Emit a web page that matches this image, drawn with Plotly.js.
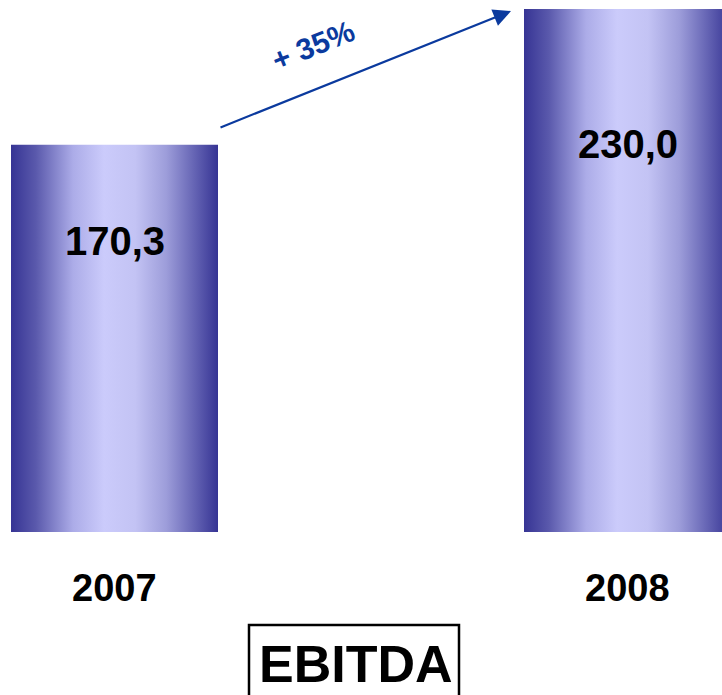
<!DOCTYPE html>
<html>
<head>
<meta charset="utf-8">
<script src="https://cdn.plot.ly/plotly-3.0.1.min.js"></script>
<style>html,body{margin:0;padding:0;background:#fff;}#chart{width:722px;height:695px;}</style>
</head>
<body>
<div id="chart"></div>
<script>
var years = ['2007', '2008'];
var ebitda = [170.3, 230.0];
var valueLabels = ['170,3', '230,0'];
var growthLabel = '+ 35%';
var chartTitle = 'EBITDA';

var pxPerUnit = 523 / 230;          // vertical scale
var yTop = 532 / pxPerUnit;
var yBot = -163 / pxPerUnit;
var x0 = -114.5 / 513;
var x1 = x0 + 722 / 513;
function yv(px) { return (532 - px) / pxPerUnit; }
function xv(px) { return x0 + px / 513; }

var trace = {
  type: 'bar',
  x: [0, 1],
  y: ebitda,
  width: 207 / 513,
  marker: { color: '#8a8ad8', line: { width: 0 } },
  hoverinfo: 'none'
};

var labelY = [yv(241), yv(144)];
var annotations = [];
years.forEach(function (yr, i) {
  annotations.push({
    x: i, y: yv(588), xref: 'x', yref: 'y', text: '<b>' + yr + '</b>', showarrow: false,
    font: { family: 'Liberation Sans, Arial, sans-serif', size: 38, color: '#000' },
    xanchor: 'center', yanchor: 'middle'
  });
  annotations.push({
    x: i, y: labelY[i], xref: 'x', yref: 'y', text: '<b>' + valueLabels[i] + '</b>', showarrow: false,
    font: { family: 'Liberation Sans, Arial, sans-serif', size: 40, color: '#000' },
    xanchor: 'center', yanchor: 'middle'
  });
});
// growth arrow
annotations.push({
  x: xv(511), y: yv(11), ax: xv(219), ay: yv(128), xref: 'x', yref: 'y', axref: 'x', ayref: 'y',
  text: '', showarrow: true, arrowhead: 2, arrowsize: 1.6, arrowwidth: 2.2, arrowcolor: '#0b3a9e', standoff: 0
});
annotations.push({
  x: xv(313), y: yv(45), xref: 'x', yref: 'y', text: '<b>' + growthLabel + '</b>', showarrow: false,
  textangle: -22, font: { family: 'Liberation Sans, Arial, sans-serif', size: 30, color: '#0b3a9e' },
  xanchor: 'center', yanchor: 'middle'
});
annotations.push({
  x: 356 / 722, y: 1 - 664 / 695, xref: 'paper', yref: 'paper', text: '<b>' + chartTitle + '</b>', showarrow: false,
  font: { family: 'Liberation Sans, Arial, sans-serif', size: 52, color: '#000' },
  xanchor: 'center', yanchor: 'middle'
});

var layout = {
  width: 722, height: 695,
  margin: { l: 0, r: 0, t: 0, b: 0 },
  paper_bgcolor: '#fff', plot_bgcolor: '#fff',
  showlegend: false,
  xaxis: { range: [x0, x1], visible: false, fixedrange: true },
  yaxis: { range: [yBot, yTop], visible: false, fixedrange: true },
  annotations: annotations,
  shapes: [{
    type: 'rect', xref: 'paper', yref: 'paper',
    x0: 249 / 722, x1: 459 / 722, y0: -0.05, y1: 1 - 625 / 695,
    line: { color: '#000', width: 2.5 }, fillcolor: 'rgba(0,0,0,0)'
  }]
};

Plotly.newPlot('chart', [trace], layout, { staticPlot: true, displayModeBar: false }).then(function (gd) {
  var svg = gd.querySelector('.main-svg');
  var defs = svg.querySelector('defs');
  var ns = 'http://www.w3.org/2000/svg';
  var grad = document.createElementNS(ns, 'linearGradient');
  grad.setAttribute('id', 'barGrad');
  grad.setAttribute('x1', '0'); grad.setAttribute('y1', '0');
  grad.setAttribute('x2', '1'); grad.setAttribute('y2', '0');
  var stops = [[0, '#363494'], [0.12, '#5a59ac'], [0.3, '#acace8'], [0.45, '#cbcbfb'], [0.6, '#c3c3f4'], [0.75, '#9d9dda'], [0.9, '#5f5eb0'], [1, '#363494']];
  stops.forEach(function (s) {
    var st = document.createElementNS(ns, 'stop');
    st.setAttribute('offset', s[0]);
    st.setAttribute('stop-color', s[1]);
    grad.appendChild(st);
  });
  defs.appendChild(grad);
  gd.querySelectorAll('.bars .point path').forEach(function (p) {
    p.style.fill = 'url(#barGrad)';
    p.style.fillOpacity = 1;
  });
});
</script>
</body>
</html>
